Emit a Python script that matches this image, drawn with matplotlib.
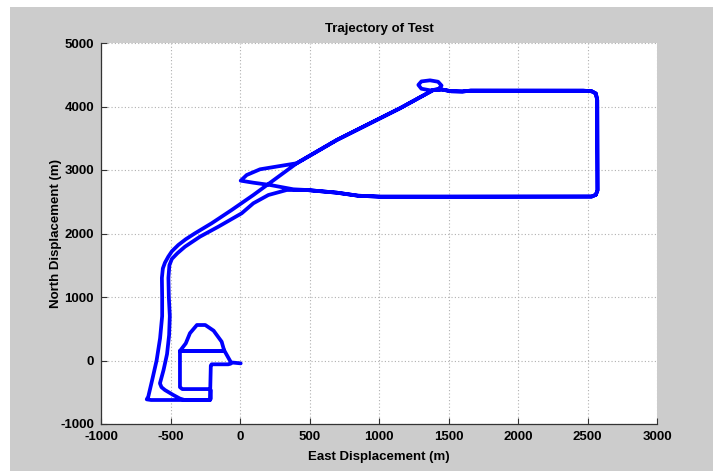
import matplotlib
matplotlib.use("Agg")
import matplotlib.pyplot as plt
from matplotlib.patches import Rectangle

# Trajectory (East, North) in metres
east = [-67, -85, -204, -210, -216, -640, -671, -660, -630, -600, -575, -560, -560, -562,
        -555, -540, -516, -490, -444, -390, -324, -204, -60, 96, 408, 696, 1151, 1391,
        1430, 1450, 1425, 1367, 1305, 1283, 1305, 1367, 1420, 1450, 1520, 1600, 1660,
        2470, 2530, 2560, 2570,
        2572, 2560, 2530, 1439, 1007, 850, 696, 480, 384,
        216, 96, 5, 48, 144, 288, 408,
        696, 1151, 1391, 1450, 1520, 1600, 1660, 2470, 2530, 2560, 2570, 2572, 2560, 2530,
        1439, 1007, 850, 696, 480, 336,
        204, 96, 12, -156, -288, -396, -450, -490, -508, -515, -512, -505, -510, -525, -550,
        -576, -565, -540, -480, -432, -400, -216, -210, -210, -222, -415, -432, -432,
        -120, -115, -132, -190, -250, -310, -360, -390, -432, -120, -115, -65, 5]
north = [-50, -60, -60, -80, -622, -622, -612, -570, -290, 0, 350, 700, 1000, 1300,
         1450, 1540, 1635, 1720, 1819, 1910, 2003, 2161, 2370, 2606, 3106, 3472, 3972, 4260,
         4280, 4330, 4390, 4412, 4395, 4340, 4280, 4255, 4262, 4268, 4240, 4236, 4250,
         4249, 4240, 4205, 4100,
         2680, 2610, 2582, 2580, 2580, 2595, 2643, 2685, 2696,
         2764, 2800, 2832, 2921, 3011, 3063, 3106,
         3472, 3972, 4260, 4268, 4240, 4236, 4250, 4249, 4240, 4205, 4100, 2680, 2610, 2582,
         2580, 2580, 2595, 2643, 2685, 2685,
         2606, 2476, 2318, 2107, 1950, 1792, 1690, 1600, 1500, 1300, 1000, 700, 400, 100, -150,
         -360, -420, -465, -543, -600, -622, -622, -600, -470, -450, -450, -420, 150,
         150, 165, 296, 470, 559, 559, 430, 270, 150, 150, 165, -30, -45]

title = "Trajectory of Test"
xlabel = "East Displacement (m)"
ylabel = "North Displacement (m)"
xticks = [-1000, -500, 0, 500, 1000, 1500, 2000, 2500, 3000]
yticks = [-1000, 0, 1000, 2000, 3000, 4000, 5000]

W, H = 713, 471
fig = plt.figure(figsize=(W / 100, H / 100), dpi=100, facecolor="white")
fig.patches.append(Rectangle((10 / W, 0), 1, (H - 7) / H, transform=fig.transFigure,
                             facecolor="#cccccc", edgecolor="none", zorder=-10))

fam = ["Liberation Sans Narrow", "Liberation Sans", "DejaVu Sans"]
ax = fig.add_axes([101 / W, (H - 424) / H, 556 / W, 381 / H])
ax.set_zorder(1)
ax.set_facecolor("white")
ax.plot(east, north, color="#0000ff", lw=2.7, solid_joinstyle="round",
        solid_capstyle="round", zorder=3)

ax.set_xlim(-1000, 3000)
ax.set_ylim(-1000, 5000)
ax.set_xticks(xticks)
ax.set_yticks(yticks)
ax.set_xticklabels([str(v) for v in xticks], family=fam, fontweight="bold", fontsize=9.5)
ax.set_yticklabels([str(v) for v in yticks], family=fam, fontweight="bold", fontsize=9.5)
ax.tick_params(direction="in", length=4, width=0.8, color="#333333", pad=5)
ax.grid(True, linestyle=(0, (1, 2)), color="#b0b0b0", lw=0.8)
for s in ["top", "right"]:
    ax.spines[s].set_visible(False)
for s in ["left", "bottom"]:
    ax.spines[s].set_color("#333333")
    ax.spines[s].set_linewidth(0.9)

ax.set_title(title, family=fam, fontweight="bold", fontsize=9.5, pad=8)
ax.set_xlabel(xlabel, family=fam, fontweight="bold", fontsize=9.5, labelpad=6)
ax.set_ylabel(ylabel, family=fam, fontweight="bold", fontsize=9.5, labelpad=-1)

fig.savefig("out.png", dpi=100, facecolor=fig.get_facecolor())
